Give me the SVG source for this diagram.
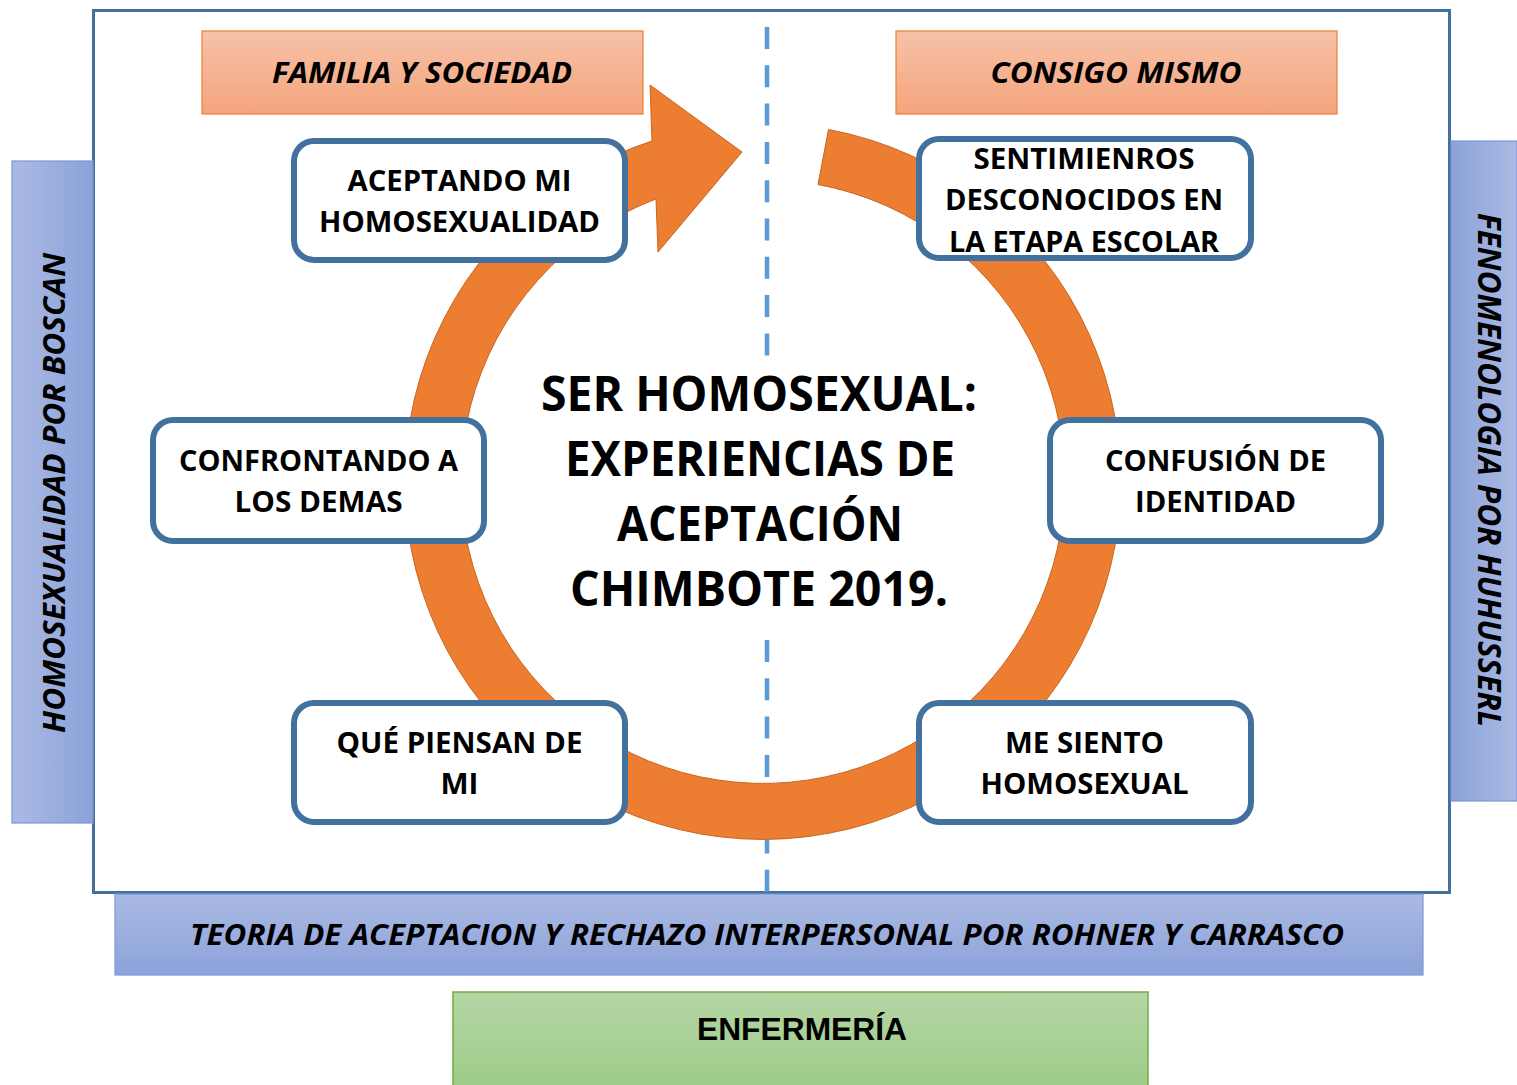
<svg xmlns="http://www.w3.org/2000/svg" width="1517" height="1085" viewBox="0 0 1517 1085">
<defs>
<linearGradient id="gOrange" x1="0" y1="0" x2="0" y2="1"><stop offset="0" stop-color="#F7C2A8"/><stop offset="1" stop-color="#F4A47C"/></linearGradient>
<linearGradient id="gBlueV" x1="0" y1="0" x2="0" y2="1"><stop offset="0" stop-color="#ABBAE3"/><stop offset="1" stop-color="#8BA2DA"/></linearGradient>
<linearGradient id="gBlueL" x1="0" y1="0" x2="1" y2="0"><stop offset="0" stop-color="#ABBAE3"/><stop offset="1" stop-color="#8BA2DA"/></linearGradient>
<linearGradient id="gBlueR" x1="1" y1="0" x2="0" y2="0"><stop offset="0" stop-color="#ABBAE3"/><stop offset="1" stop-color="#8BA2DA"/></linearGradient>
<linearGradient id="gGreen" x1="0" y1="0" x2="0" y2="1"><stop offset="0" stop-color="#B4D6A4"/><stop offset="1" stop-color="#9DCB87"/></linearGradient>
</defs>
<style>
.frame{fill:#FFFFFF;stroke:#41719C;stroke-width:3}
.hdr{stroke:#ED7D31;stroke-width:1.2;fill:url(#gOrange)}
.bar{stroke:#7F97D4;stroke-width:1.2}
.node rect{fill:#FFFFFF;stroke:#41719C;stroke-width:6}
.nt{font-family:"Open Sans","Liberation Sans",sans-serif;font-weight:700;font-size:29px;fill:#000;text-anchor:middle}
.it{font-family:"Open Sans","Liberation Sans",sans-serif;font-weight:700;font-style:italic;fill:#000;text-anchor:middle}
.title{font-family:"Open Sans","Liberation Sans",sans-serif;font-weight:700;font-size:49px;fill:#000;text-anchor:middle}
.dash{stroke:#5B9BD5;stroke-width:4.5;stroke-dasharray:22 16.3;fill:none}
.ring{fill:#ED7D31;stroke:#C8651F;stroke-width:1}
</style>
<rect class="frame" x="93.5" y="10.5" width="1356" height="882"/>
<g id="bar-left">
<rect class="bar" x="12" y="161" width="81" height="662" fill="url(#gBlueL)"/>
<text class="it" font-size="31" transform="translate(65,493) rotate(-90)" textLength="480" lengthAdjust="spacingAndGlyphs">HOMOSEXUALIDAD POR BOSCAN</text>
</g>
<g id="bar-right">
<rect class="bar" x="1451" y="141" width="66" height="660" fill="url(#gBlueR)"/>
<text class="it" font-size="32" transform="translate(1478,470) rotate(90)" textLength="514" lengthAdjust="spacingAndGlyphs">FENOMENOLOGIA POR HUHUSSERL</text>
</g>
<g id="bar-bottom">
<rect class="bar" x="115" y="894" width="1308" height="81" fill="url(#gBlueV)"/>
<text class="it" font-size="28" x="767" y="945" textLength="1154" lengthAdjust="spacingAndGlyphs">TEORIA DE ACEPTACION Y RECHAZO INTERPERSONAL POR ROHNER Y CARRASCO</text>
</g>
<g id="enfermeria">
<rect x="453" y="992" width="695" height="100" fill="url(#gGreen)" stroke="#70AD47" stroke-width="1.5"/>
<text x="802" y="1040" font-family="Liberation Sans, Arial, sans-serif" font-weight="700" font-size="32" text-anchor="middle" textLength="210" lengthAdjust="spacingAndGlyphs">ENFERMERÍA</text>
</g>
<g id="hdr-familia">
<rect class="hdr" x="202" y="31" width="441" height="83"/>
<text class="it" font-size="28" x="422" y="83" textLength="300" lengthAdjust="spacingAndGlyphs">FAMILIA Y SOCIEDAD</text>
</g>
<g id="hdr-consigo">
<rect class="hdr" x="896" y="31" width="441" height="83"/>
<text class="it" font-size="28" x="1116" y="83" textLength="251" lengthAdjust="spacingAndGlyphs">CONSIGO MISMO</text>
</g>
<g id="connectors">
<line class="dash" x1="767" y1="27" x2="767" y2="356"/>
<line class="dash" x1="767" y1="640" x2="767" y2="892"/>
<path class="ring" d="M 828.5 129.5 A 358 358 0 1 1 652 141 L 650 85 L 742 152 L 658 252 L 656 199 A 302 302 0 1 0 818 184.5 Z"/>
</g>
<g id="node-aceptando" class="node">
<rect x="294" y="141" width="331" height="119" rx="20"/>
<text class="nt" x="459.5" y="191" textLength="224" lengthAdjust="spacingAndGlyphs">ACEPTANDO MI</text>
<text class="nt" x="459.5" y="232" textLength="281" lengthAdjust="spacingAndGlyphs">HOMOSEXUALIDAD</text>
</g>
<g id="node-sentimienros" class="node">
<rect x="919" y="139" width="332" height="119" rx="20"/>
<text class="nt" x="1084" y="169" textLength="221" lengthAdjust="spacingAndGlyphs">SENTIMIENROS</text>
<text class="nt" x="1084" y="210" textLength="278" lengthAdjust="spacingAndGlyphs">DESCONOCIDOS EN</text>
<text class="nt" x="1084" y="252" textLength="270" lengthAdjust="spacingAndGlyphs">LA ETAPA ESCOLAR</text>
</g>
<g id="node-confrontando" class="node">
<rect x="153" y="420" width="331" height="121" rx="20"/>
<text class="nt" x="318.5" y="471" textLength="279" lengthAdjust="spacingAndGlyphs">CONFRONTANDO A</text>
<text class="nt" x="318.5" y="512" textLength="168" lengthAdjust="spacingAndGlyphs">LOS DEMAS</text>
</g>
<g id="node-confusion" class="node">
<rect x="1050" y="420" width="331" height="121" rx="20"/>
<text class="nt" x="1215.5" y="471" textLength="221" lengthAdjust="spacingAndGlyphs">CONFUSIÓN DE</text>
<text class="nt" x="1215.5" y="512" textLength="161" lengthAdjust="spacingAndGlyphs">IDENTIDAD</text>
</g>
<g id="node-quepiensan" class="node">
<rect x="294" y="703" width="331" height="119" rx="20"/>
<text class="nt" x="459.5" y="753" textLength="246" lengthAdjust="spacingAndGlyphs">QUÉ PIENSAN DE</text>
<text class="nt" x="459.5" y="794" textLength="38" lengthAdjust="spacingAndGlyphs">MI</text>
</g>
<g id="node-mesiento" class="node">
<rect x="919" y="703" width="332" height="119" rx="20"/>
<text class="nt" x="1084.5" y="753" textLength="159" lengthAdjust="spacingAndGlyphs">ME SIENTO</text>
<text class="nt" x="1084.5" y="794" textLength="208" lengthAdjust="spacingAndGlyphs">HOMOSEXUAL</text>
</g>
<g id="center-title">
<text class="title" x="759" y="411" textLength="436" lengthAdjust="spacingAndGlyphs">SER HOMOSEXUAL:</text>
<text class="title" x="760" y="476" textLength="390" lengthAdjust="spacingAndGlyphs">EXPERIENCIAS DE</text>
<text class="title" x="760" y="541" textLength="286" lengthAdjust="spacingAndGlyphs">ACEPTACIÓN</text>
<text class="title" x="759" y="606" textLength="378" lengthAdjust="spacingAndGlyphs">CHIMBOTE 2019.</text>
</g>
</svg>
